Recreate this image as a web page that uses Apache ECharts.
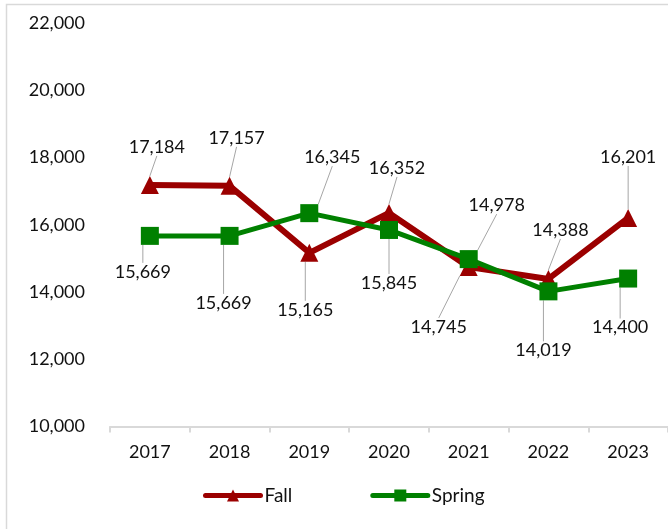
<!DOCTYPE html>
<html>
<head>
<meta charset="utf-8">
<script src="https://cdn.jsdelivr.net/npm/echarts@6/dist/echarts.min.js"></script>
<style>
  html, body { margin: 0; padding: 0; background: #fff; }
  #chart { width: 668px; height: 529px; }
</style>
</head>
<body>
<div id="chart"></div>
<script>
// Category labels
var years = ['2017', '2018', '2019', '2020', '2021', '2022', '2023'];

// Series values
var fallValues = [17184, 17157, 15165, 16352, 14745, 14388, 16201];
var springValues = [15669, 15669, 16345, 15845, 14978, 14019, 14400];

// Label offsets from each point (Excel style leader lines)
var fallLabelShift = [[7, -38], [7, -48], [-4, 57], [8, -45], [-30, 60], [12, -49], [0, -61]];
var springLabelShift = [[-7, 36], [-6, 67], [23, -56], [0, 53], [28, -54], [-5, 59], [-8, 49]];

var fontName = 'Lato';

function fmt(v) {
	return Number(v).toLocaleString('en-US');
}

function makeSeries(name, values, color, width, symbol, size, shifts) {
	return {
		name: name,
		type: 'line',
		data: values,
		symbol: symbol,
		symbolSize: size,
		lineStyle: { color: color, width: width },
		itemStyle: { color: color },
		label: {
			show: true,
			position: 'inside',
			fontFamily: fontName,
			fontSize: 18,
			color: '#111',
			padding: [6, 4],
			formatter: function (p) { return fmt(p.value); }
		},
		labelLine: {
			show: true,
			lineStyle: { color: '#a6a6a6', width: 1 }
		},
		labelLayout: function (params) {
			var s = shifts[params.dataIndex];
			return { dx: s[0], dy: s[1] };
		},
		emphasis: { disabled: true },
		animation: false
	};
}

var chart = echarts.init(document.getElementById('chart'));

chart.setOption({
	backgroundColor: '#fff',
	animation: false,
	grid: { left: 110, right: -6, top: 23, bottom: 102.5, containLabel: false },
	graphic: [{
		type: 'rect',
		shape: { x: 6.5, y: 4.5, width: 700, height: 600 },
		style: { fill: 'none', stroke: '#d9d9d9', lineWidth: 1.5 },
		silent: true
	}],
	legend: {
		left: 198,
		top: 481,
		itemWidth: 55,
		itemHeight: 15,
		itemGap: 78,
		lineStyle: { width: 5, cap: 'round' },
		textStyle: { fontFamily: fontName, fontSize: 19, color: '#111', padding: [0, 0, 0, -1] },
		data: ['Fall', 'Spring']
	},
	xAxis: {
		type: 'category',
		data: years,
		boundaryGap: true,
		axisLine: { lineStyle: { color: '#d9d9d9', width: 2 } },
		axisTick: { show: true, length: 6, lineStyle: { color: '#d9d9d9', width: 2 } },
		axisLabel: { fontFamily: fontName, fontSize: 18, color: '#111', margin: 17 }
	},
	yAxis: {
		type: 'value',
		min: 10000,
		max: 22000,
		interval: 2000,
		axisLine: { show: false },
		axisTick: { show: false },
		splitLine: { show: false },
		axisLabel: {
			fontFamily: fontName,
			fontSize: 18,
			color: '#111',
			margin: 25,
			formatter: fmt
		}
	},
	series: [
		makeSeries('Fall', fallValues, '#9b0000', 6, 'triangle', 18, fallLabelShift),
		makeSeries('Spring', springValues, '#008000', 5, 'rect', 18, springLabelShift)
	]
});
</script>
</body>
</html>
